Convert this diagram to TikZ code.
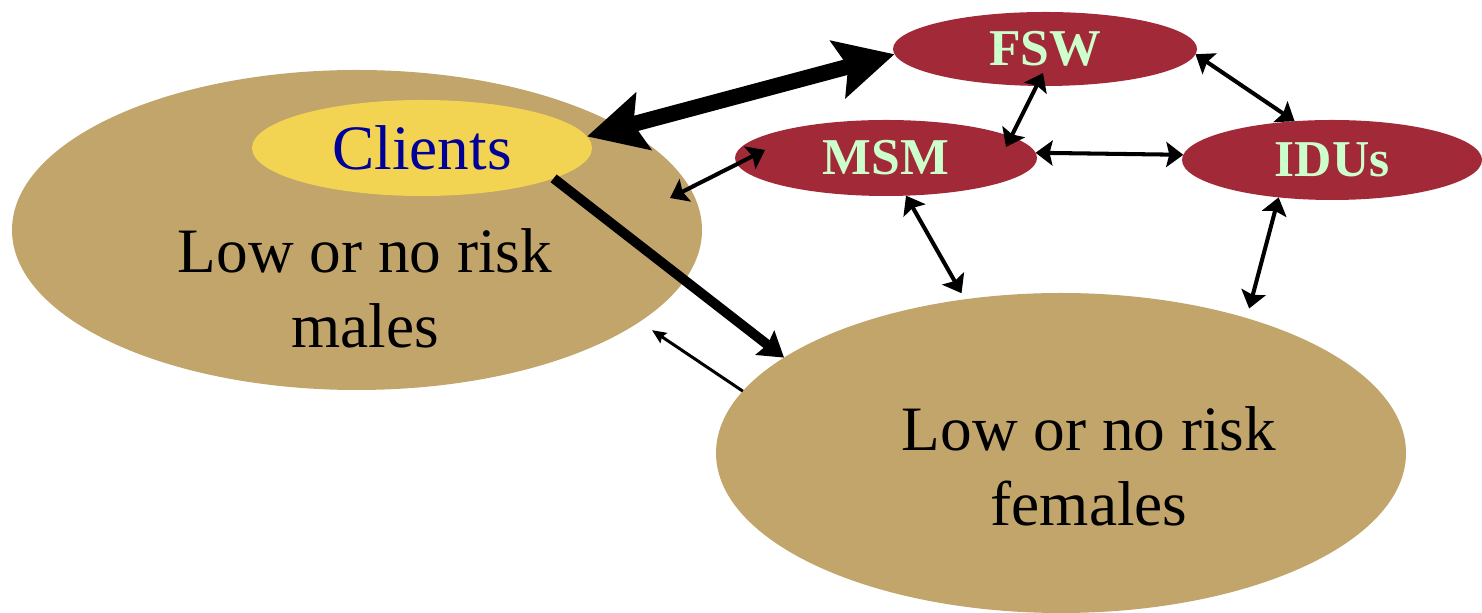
\documentclass[tikz,border=0pt]{standalone}
\usepackage{fontspec}
\setmainfont{Liberation Serif}
\usetikzlibrary{shapes.geometric,arrows.meta}
\definecolor{tan}{RGB}{193,165,107}
\definecolor{clientyellow}{RGB}{242,212,82}
\definecolor{groupred}{RGB}{161,41,56}
\definecolor{groupgreen}{RGB}{204,255,204}
\definecolor{clientblue}{RGB}{0,0,153}
\begin{document}
\begin{tikzpicture}[
  blob/.style={ellipse, fill=tan, inner sep=0, outer sep=0, minimum width=6.9cm, minimum height=3.2cm},
  group/.style={ellipse, fill=groupred, inner sep=0, outer sep=0, text=groupgreen, font=\fontsize{14.7}{17}\selectfont\bfseries},
  caption/.style={align=center, font=\fontsize{18}{21.3}\selectfont},
  link/.style={line width=1.15pt, {Stealth[length=0.17cm, width=0.25cm, inset=0.03cm]}-{Stealth[length=0.17cm, width=0.25cm, inset=0.03cm]}},
  biglink/.style={line width=4.5pt, {Stealth[length=0.58cm, width=0.58cm, inset=0.1cm]}-{Stealth[length=0.58cm, width=0.58cm, inset=0.1cm]}},
  flow/.style={line width=2.8pt, -{Stealth[length=0.24cm, width=0.3cm, inset=0.03cm]}},
  backflow/.style={line width=0.85pt, -{Stealth[length=0.14cm, width=0.12cm, inset=0.02cm]}}]
\useasboundingbox (0, 0) rectangle (14.82, -6.13);
\node[blob] (males) at (3.57, -2.30) {};
\node[blob] (females) at (10.61, -4.53) {};
\node[ellipse, fill=clientyellow, inner sep=0, outer sep=0, minimum width=3.4cm, minimum height=0.96cm, text=clientblue, font=\fontsize{18}{21}\selectfont] (clients) at (4.22, -1.48) {Clients};
\node[caption] (malestext) at (3.65, -2.88) {Low or no risk\\males};
\node[caption] (femalestext) at (10.89, -4.66) {Low or no risk\\females};
\node[group, minimum width=3.04cm, minimum height=0.74cm] (fsw) at (10.45, -0.49) {FSW};
\node[group, minimum width=3.02cm, minimum height=0.76cm] (msm) at (8.86, -1.58) {MSM};
\node[group, minimum width=3.0cm, minimum height=0.8cm] (idus) at (13.32, -1.60) {IDUs};
\draw[biglink] (clients.4) -- (fsw.182);
\draw[flow] (clients.-13) -- (females.161);
\draw[backflow, shorten >=0.15cm] (females.169) -- (males.-18);
\draw[link] ([shift={(3.13, 0.32)}]males.center) -- ([shift={(-1.21, 0.08)}]msm.center);
\draw[link] ([shift={(1.20, 0.11)}]msm.center) -- ([shift={(-0.02, -0.24)}]fsw.center);
\draw[link] (msm.2) -- (idus.178);
\draw[link] (fsw.-2) -- (idus.134);
\draw[link, shorten >=0.07cm] (msm.-62) -- (females.122);
\draw[link, shorten >=0.1cm] (idus.215) -- (females.36);
\end{tikzpicture}
\end{document}
